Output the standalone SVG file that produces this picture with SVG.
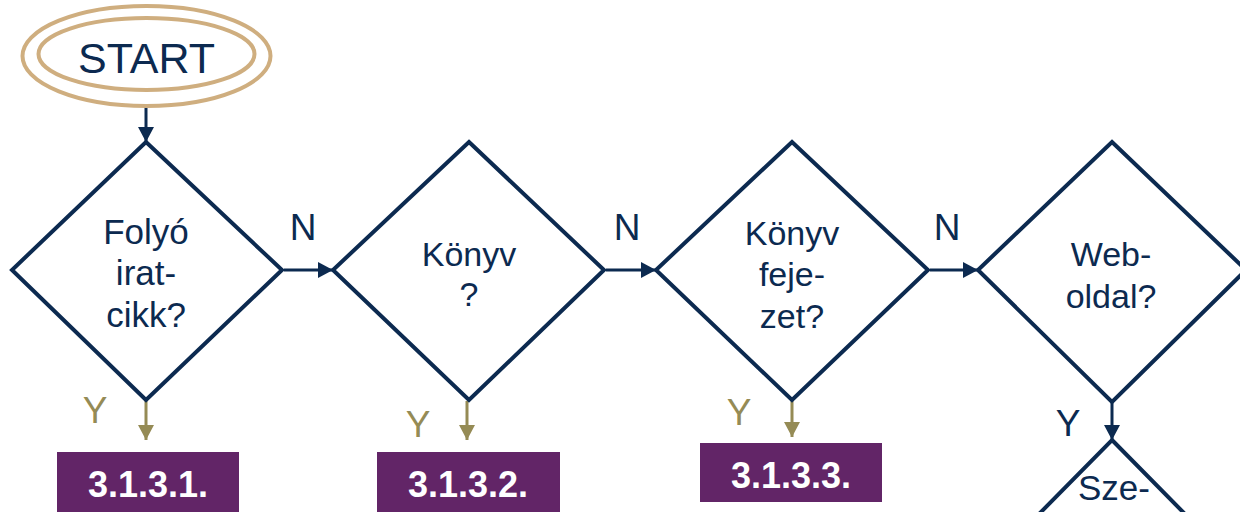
<svg xmlns="http://www.w3.org/2000/svg" width="1240" height="512" viewBox="0 0 1240 512">
<defs>
<style>
.d{fill:#fff;stroke:#0C2A50;stroke-width:4;stroke-linejoin:miter}
.t{font-family:"Liberation Sans",Arial,sans-serif;fill:#0C2A50;text-anchor:middle}
.c{stroke:#0C2A50;stroke-width:3;fill:none}
.y{stroke:#958B55;stroke-width:3;fill:none}
.box{fill:#622567}
.bt{font-family:"Liberation Sans",Arial,sans-serif;font-weight:bold;font-size:36px;fill:#fff;text-anchor:middle}
.yl{font-family:"Liberation Sans",Arial,sans-serif;font-size:37px;fill:#958B55;text-anchor:middle}
</style>
<marker id="an" markerWidth="15" markerHeight="16" refX="15" refY="8" orient="auto" markerUnits="userSpaceOnUse" viewBox="0 0 15 16"><path d="M0,0 L15,8 L0,16 z" fill="#0C2A50"/></marker>
<marker id="ay" markerWidth="15" markerHeight="16" refX="15" refY="8" orient="auto" markerUnits="userSpaceOnUse" viewBox="0 0 15 16"><path d="M0,0 L15,8 L0,16 z" fill="#958B55"/></marker>
</defs>
<rect width="1240" height="512" fill="#fff"/>
<g id="connectors">
<line class="c" x1="146" y1="107" x2="146" y2="142" marker-end="url(#an)"/>
<line class="c" x1="284" y1="270" x2="333" y2="270" marker-end="url(#an)"/>
<line class="c" x1="606" y1="270" x2="656" y2="270" marker-end="url(#an)"/>
<line class="c" x1="930" y1="270" x2="978" y2="270" marker-end="url(#an)"/>
<line class="y" x1="146" y1="401" x2="146" y2="440" marker-end="url(#ay)"/>
<line class="y" x1="467" y1="401" x2="467" y2="440" marker-end="url(#ay)"/>
<line class="y" x1="792" y1="401" x2="792" y2="437" marker-end="url(#ay)"/>
<line class="c" x1="1112" y1="402" x2="1112" y2="440" marker-end="url(#an)"/>
</g>
<g id="labels">
<text class="t" x="303" y="240" font-size="37">N</text>
<text class="t" x="627" y="240" font-size="37">N</text>
<text class="t" x="947" y="240" font-size="37">N</text>
<text class="yl" x="95" y="423">Y</text>
<text class="yl" x="418" y="437">Y</text>
<text class="yl" x="739" y="425">Y</text>
<text class="t" x="1068" y="436" font-size="37">Y</text>
</g>
<g id="start">
<ellipse cx="146.5" cy="56" rx="124" ry="50" fill="none" stroke="#CFAE7F" stroke-width="4"/>
<ellipse cx="146.5" cy="54" rx="108" ry="36" fill="none" stroke="#CFAE7F" stroke-width="4"/>
<text class="t" x="146.5" y="73" font-size="43">START</text>
</g>
<g id="q1">
<polygon class="d" points="146,142 282,270 146,400 12,270"/>
<text class="t" font-size="35"><tspan x="146" y="244">Folyó</tspan><tspan x="146" y="285">irat-</tspan><tspan x="146" y="327">cikk?</tspan></text>
</g>
<g id="q2">
<polygon class="d" points="469,142 604,270 469,400 333,270"/>
<text class="t" font-size="34"><tspan x="469" y="266">Könyv</tspan><tspan x="469" y="306">?</tspan></text>
</g>
<g id="q3">
<polygon class="d" points="792,142 928,270 792,400 656,270"/>
<text class="t" font-size="34"><tspan x="792" y="245">Könyv</tspan><tspan x="792" y="286">feje-</tspan><tspan x="792" y="328">zet?</tspan></text>
</g>
<g id="q4">
<polygon class="d" points="1112,142 1246,270 1112,402 978,270"/>
<text class="t" font-size="34"><tspan x="1111" y="266">Web-</tspan><tspan x="1111" y="308">oldal?</tspan></text>
</g>
<g id="q5">
<polygon class="d" points="1112,440 1250,580 1112,720 974,580"/>
<text class="t" font-size="35" x="1114" y="500">Sze-</text>
</g>
<g id="r1"><rect class="box" x="57" y="452" width="182" height="60"/><text class="bt" x="148" y="497">3.1.3.1.</text></g>
<g id="r2"><rect class="box" x="377" y="452" width="183" height="60"/><text class="bt" x="468" y="497">3.1.3.2.</text></g>
<g id="r3"><rect class="box" x="700" y="443" width="182" height="59"/><text class="bt" x="791" y="488">3.1.3.3.</text></g>
</svg>
